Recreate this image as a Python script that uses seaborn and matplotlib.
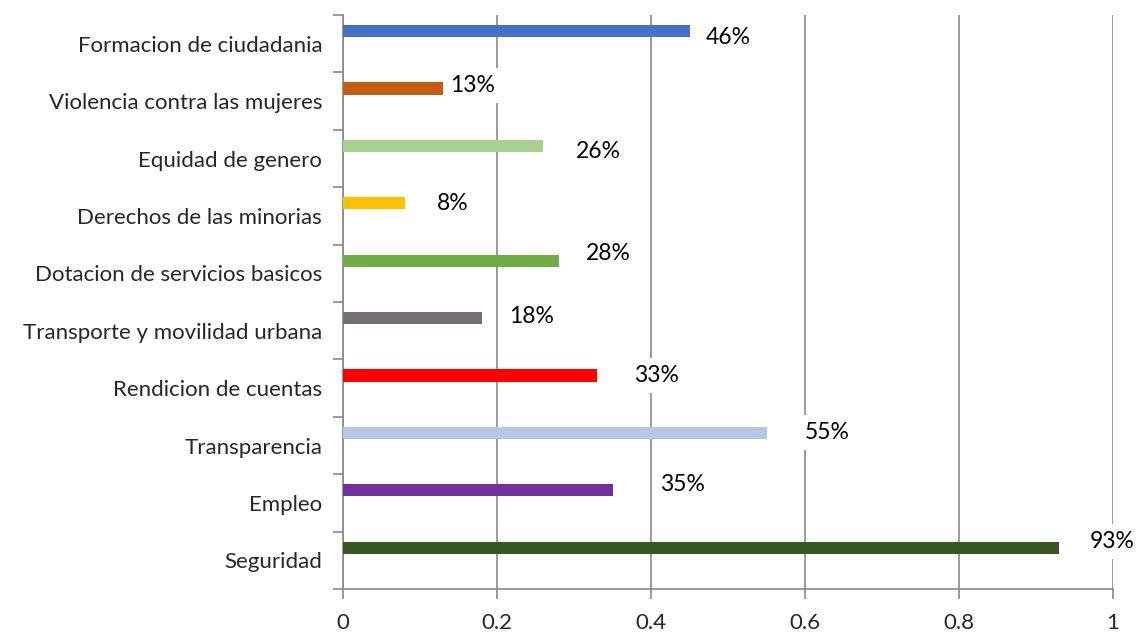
import matplotlib
matplotlib.use("Agg")
import matplotlib.pyplot as plt
import seaborn as sns
import pandas as pd
from matplotlib.ticker import FixedLocator

categories = ["Formacion de ciudadania", "Violencia contra las mujeres", "Equidad de genero",
              "Derechos de las minorias", "Dotacion de servicios basicos",
              "Transporte y movilidad urbana", "Rendicion de cuentas", "Transparencia",
              "Empleo", "Seguridad"]
values = [0.45, 0.13, 0.26, 0.08, 0.28, 0.18, 0.33, 0.55, 0.35, 0.93]
labels = ["46%", "13%", "26%", "8%", "28%", "18%", "33%", "55%", "35%", "93%"]
colors = ["#4472C4", "#C55A11", "#A9D18E", "#FFC000", "#70AD47", "#767171",
          "#FF0000", "#B4C7E7", "#7030A0", "#375623"]
xticks = [0, 0.2, 0.4, 0.6, 0.8, 1]
xticklabels = ["0", "0.2", "0.4", "0.6", "0.8", "1"]

# label offsets (pixels) from the bar end: (dx right, dy down) -- styling only
label_dx = [16, 7, 33, 32, 27, 28, 37, 38, 48, 31]
label_dy = [6, -3, 6, 0, -7, -2, 0, 0, -6, -6]

sns.set_style("white")
plt.rcParams['font.family'] = ['Lato', 'DejaVu Sans']

fig = plt.figure(figsize=(11.41, 6.36), dpi=100)
ax = fig.add_axes([0.3006, 0.0739, 0.6749, 0.9025])

df = pd.DataFrame({"cat": categories, "val": values})
sns.barplot(data=df, x="val", y="cat", hue="cat", palette=colors, legend=False,
            width=0.21, saturation=1, ax=ax, zorder=3)

bar_shift = 0.22
for p in ax.patches:
    p.set_y(p.get_y() - bar_shift)
    p.set_edgecolor("none")

ax.set_xlim(0, 1)
ax.set_ylim(9.5, -0.5)
ax.set_xticks(xticks)
ax.set_xticklabels(xticklabels, fontsize=16)
ax.set_xlabel("")
ax.set_ylabel("")
ax.grid(axis="x", color="#898989", linewidth=1.2, zorder=0)
ax.grid(axis="y", visible=False)

ax.set_yticks(range(len(categories)))
ax.set_yticklabels(categories, fontsize=16)
ax.yaxis.set_minor_locator(FixedLocator([i - 0.5 for i in range(len(categories) + 1)]))
ax.tick_params(axis="y", which="major", length=0, pad=15)
ax.tick_params(axis="y", which="minor", length=7, width=1.2, color="#898989", left=True)
ax.tick_params(axis="x", which="major", length=7, width=1.2, color="#898989", bottom=True, pad=10)

for s in ["top", "right"]:
    ax.spines[s].set_visible(False)
for s in ["left", "bottom"]:
    ax.spines[s].set_color("#898989")
    ax.spines[s].set_linewidth(1.2)

for i, (v, lab) in enumerate(zip(values, labels)):
    ax.annotate(lab, xy=(v, i - bar_shift), xytext=(label_dx[i] * 0.72, -label_dy[i] * 0.72),
                textcoords="offset points", ha="left", va="center", fontsize=16.5, color="#000000",
                bbox=dict(boxstyle="square,pad=0.3", fc="white", ec="none"), zorder=5)

fig.savefig("out.png", dpi=100)
